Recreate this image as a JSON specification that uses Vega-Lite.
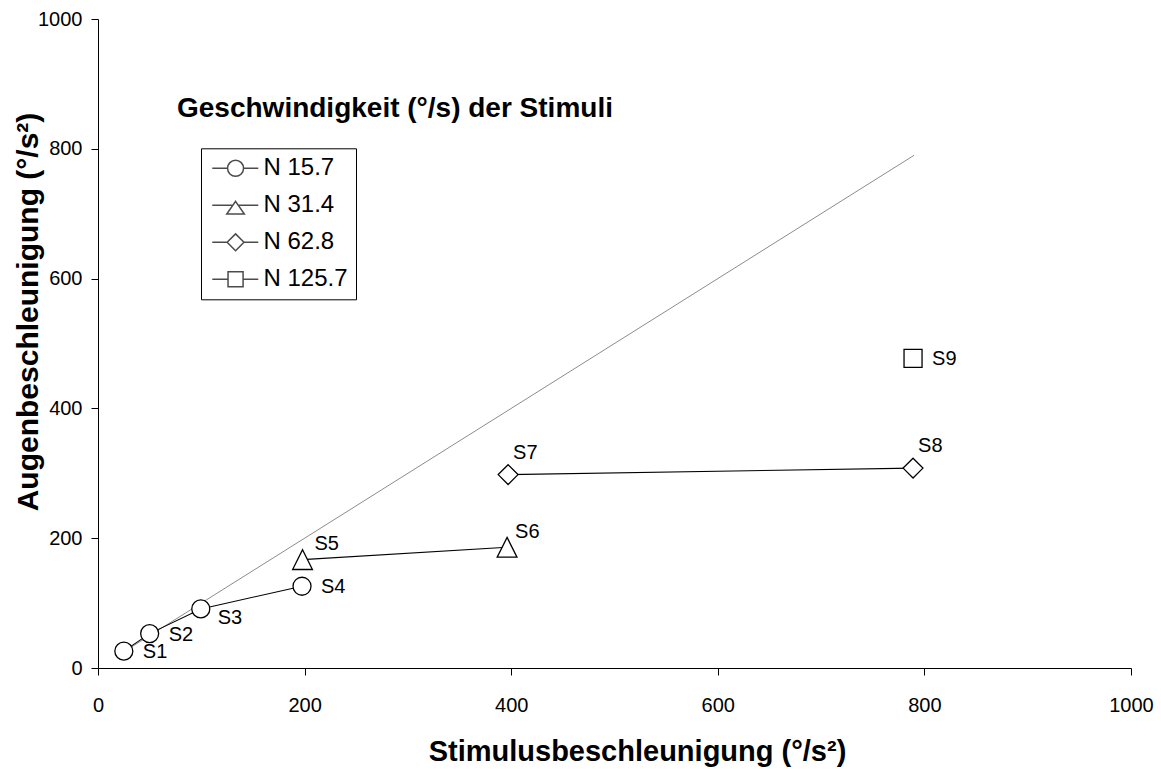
{
  "$schema": "https://vega.github.io/schema/vega-lite/v6.json",
  "width": 1033,
  "height": 649,
  "autosize": "none",
  "padding": {"left": 98, "top": 19, "right": 30, "bottom": 101},
  "background": "white",
  "config": {
    "view": {"stroke": null},
    "font": "Liberation Sans",
    "axis": {
      "grid": false,
      "domainColor": "black",
      "tickColor": "black",
      "labelColor": "black",
      "titleColor": "black",
      "labelFont": "Liberation Sans",
      "titleFont": "Liberation Sans",
      "labelFontSize": 20,
      "titleFontSize": 29,
      "titleFontWeight": "bold",
      "tickSize": 7,
      "labelFlush": false,
      "labelOverlap": false,
      "format": "d"
    }
  },
  "title": {
    "text": "Geschwindigkeit (°/s) der Stimuli",
    "anchor": "start",
    "frame": "group",
    "orient": "top",
    "font": "Liberation Sans",
    "fontSize": 28,
    "fontWeight": "bold",
    "color": "black",
    "baseline": "alphabetic",
    "offset": 0,
    "dx": 79,
    "dy": 136
  },
  "datasets": {
    "points": [
      {"x": 25, "y": 26, "label": "S1", "series": "N 15.7"},
      {"x": 50, "y": 53, "label": "S2", "series": "N 15.7"},
      {"x": 99.5, "y": 91, "label": "S3", "series": "N 15.7"},
      {"x": 197.5, "y": 126, "label": "S4", "series": "N 15.7"},
      {"x": 198, "y": 167, "label": "S5", "series": "N 31.4"},
      {"x": 396, "y": 186, "label": "S6", "series": "N 31.4"},
      {"x": 397, "y": 298, "label": "S7", "series": "N 62.8"},
      {"x": 789, "y": 308, "label": "S8", "series": "N 62.8"},
      {"x": 789, "y": 477, "label": "S9", "series": "N 125.7"}
    ],
    "ref": [
      {"x": 25, "y": 25},
      {"x": 790, "y": 790}
    ]
  },
  "data": {"name": "points"},
  "encoding": {
    "x": {
      "field": "x",
      "type": "quantitative",
      "scale": {"domain": [0, 1000], "nice": false, "zero": false},
      "axis": {
        "title": "Stimulusbeschleunigung (°/s²)",
        "values": [0, 200, 400, 600, 800, 1000],
        "labelPadding": 20,
        "titleX": 539,
        "titleY": 92,
        "titleAlign": "center",
        "titleBaseline": "alphabetic"
      }
    },
    "y": {
      "field": "y",
      "type": "quantitative",
      "scale": {"domain": [0, 1000], "nice": false, "zero": false},
      "axis": {
        "title": "Augenbeschleunigung (°/s²)",
        "values": [0, 200, 400, 600, 800, 1000],
        "labelPadding": 9,
        "titleFontSize": 30,
        "titleAngle": -90,
        "titleX": -61,
        "titleY": 292.5,
        "titleAlign": "center",
        "titleBaseline": "alphabetic"
      }
    }
  },
  "resolve": {"scale": {"shape": "independent"}, "legend": {"shape": "independent"}},
  "layer": [
    {
      "data": {"name": "ref"},
      "mark": {"type": "line", "color": "#8c8c8c", "strokeWidth": 1},
      "encoding": {}
    },
    {
      "mark": {"type": "line", "color": "black", "strokeWidth": 1.1},
      "encoding": {"detail": {"field": "series", "type": "nominal"}}
    },
    {
      "transform": [{"filter": "datum.x < 0"}],
      "mark": {"type": "point", "filled": false, "color": "black", "strokeWidth": 1},
      "encoding": {
        "shape": {
          "field": "series",
          "type": "nominal",
          "scale": {
            "domain": ["N 15.7", "N 31.4", "N 62.8", "N 125.7"],
            "range": [
              "M-1.09,0L0.82,0M2.82,0L4.66,0M2.82,0C2.82,0.552 2.372,1 1.82,1C1.268,1 0.82,0.552 0.82,0C0.82,-0.552 1.268,-1 1.82,-1C2.372,-1 2.82,-0.552 2.82,0Z",
              "M-1.09,0L1.48,0M2.16,0L4.66,0M1.82,-0.5L2.92,1.1L0.72,1.1Z",
              "M-1.09,0L0.77,0M2.87,0L4.66,0M1.82,-1.05L2.87,0L1.82,1.05L0.77,0Z",
              "M-1.09,0L0.88,0M2.76,0L4.66,0M0.88,-0.94L2.76,-0.94L2.76,0.94L0.88,0.94Z"
            ]
          },
          "legend": {
            "title": null,
            "orient": "none",
            "legendX": 103,
            "legendY": 129.3,
            "padding": 8,
            "strokeColor": "black",
            "rowPadding": 13,
            "labelFont": "Liberation Sans",
            "labelFontSize": 24,
            "labelColor": "black",
            "labelOffset": 30.5,
            "labelLimit": 300,
            "symbolSize": 256
          }
        }
      }
    },
    {
      "mark": {"type": "point", "filled": true, "fill": "white", "stroke": "black", "strokeWidth": 1.3, "size": 324, "opacity": 1},
      "encoding": {
        "shape": {
          "field": "series",
          "type": "nominal",
          "scale": {
            "domain": ["N 15.7", "N 31.4", "N 62.8", "N 125.7"],
            "range": ["circle", "M0,-1.1L1.1,1.1L-1.1,1.1Z", "M0,-1.1L1.1,0L0,1.1L-1.1,0Z", "square"]
          },
          "legend": null
        }
      }
    },
    {
      "transform": [{"filter": {"field": "label", "oneOf": ["S1", "S2", "S4", "S9"]}}],
      "mark": {"type": "text", "align": "left", "baseline": "middle", "dx": 19, "dy": 1, "fontSize": 20, "font": "Liberation Sans", "color": "black"},
      "encoding": {"text": {"field": "label"}}
    },
    {
      "transform": [{"filter": {"field": "label", "equal": "S3"}}],
      "mark": {"type": "text", "align": "left", "baseline": "middle", "dx": 17, "dy": 9, "fontSize": 20, "font": "Liberation Sans", "color": "black"},
      "encoding": {"text": {"field": "label"}}
    },
    {
      "transform": [{"filter": {"field": "label", "equal": "S5"}}],
      "mark": {"type": "text", "align": "left", "baseline": "middle", "dx": 12, "dy": -16, "fontSize": 20, "font": "Liberation Sans", "color": "black"},
      "encoding": {"text": {"field": "label"}}
    },
    {
      "transform": [{"filter": {"field": "label", "equal": "S6"}}],
      "mark": {"type": "text", "align": "left", "baseline": "middle", "dx": 8, "dy": -15, "fontSize": 20, "font": "Liberation Sans", "color": "black"},
      "encoding": {"text": {"field": "label"}}
    },
    {
      "transform": [{"filter": {"field": "label", "oneOf": ["S7", "S8"]}}],
      "mark": {"type": "text", "align": "left", "baseline": "middle", "dx": 5, "dy": -22, "fontSize": 20, "font": "Liberation Sans", "color": "black"},
      "encoding": {"text": {"field": "label"}}
    }
  ]
}
